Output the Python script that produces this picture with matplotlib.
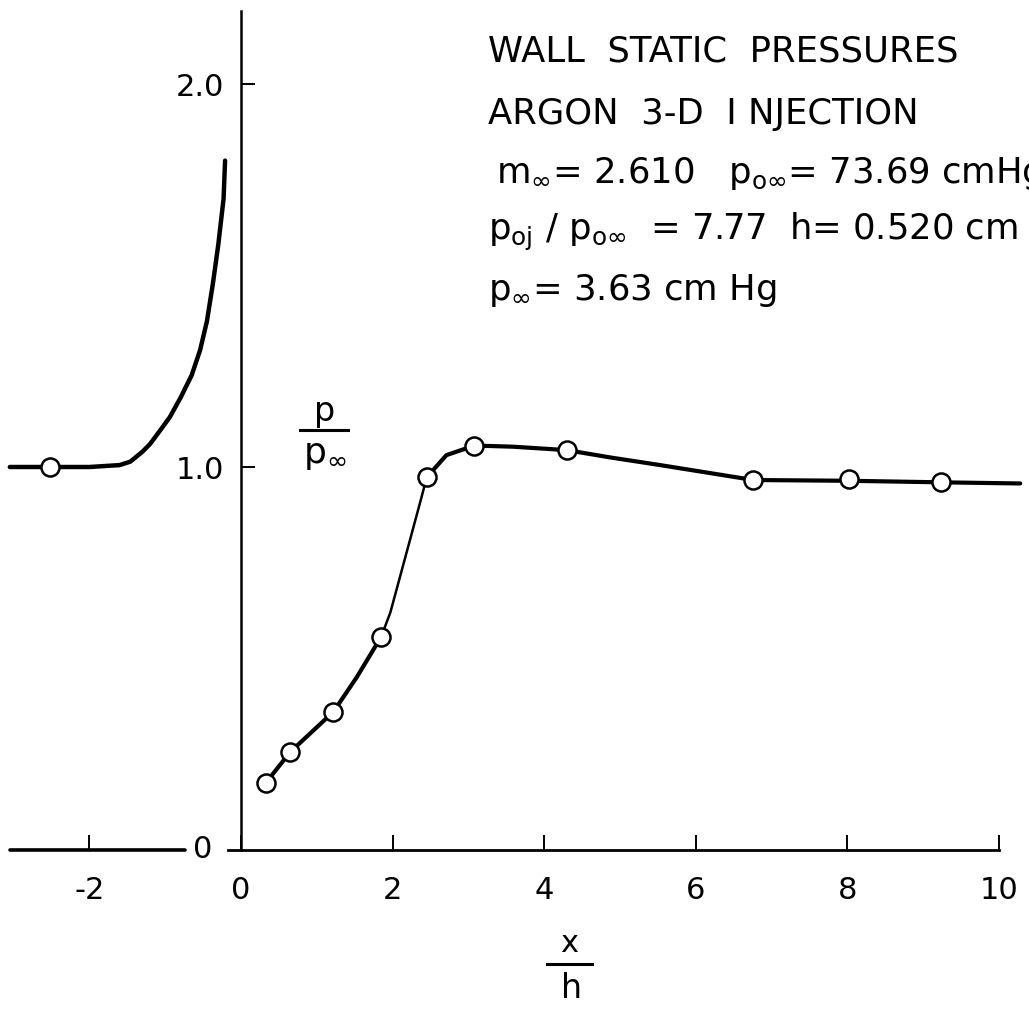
import matplotlib.pyplot as plt
from matplotlib.lines import Line2D

# wall static pressure, argon 3-D injection
# upstream faired curve (separation region ahead of the jet)
up_x = [-3.05, -2.5, -2.0, -1.6, -1.46, -1.3, -1.2, -1.05, -0.94, -0.80,
        -0.65, -0.54, -0.45, -0.37, -0.30, -0.23, -0.21]
up_y = [1.0, 1.0, 1.0, 1.005, 1.014, 1.04, 1.06, 1.10, 1.13, 1.18,
        1.24, 1.305, 1.38, 1.48, 1.58, 1.70, 1.80]
up_pts_x = [-2.52]
up_pts_y = [1.0]

# measured taps downstream of the injector
tap_x = [0.33, 0.65, 1.22, 1.85, 2.45, 3.08, 4.30, 6.76, 8.02, 9.23]
tap_y = [0.176, 0.256, 0.361, 0.557, 0.973, 1.056, 1.044, 0.966, 0.968, 0.962]

# faired curve through the taps
fair_x = [0.33, 0.65, 1.22, 1.53, 1.85, 1.97, 2.23, 2.38, 2.45, 2.71, 3.08,
          3.59, 4.30, 4.87, 5.53, 6.76, 8.02, 9.23, 10.28]
fair_y = [0.176, 0.256, 0.361, 0.452, 0.557, 0.62, 0.81, 0.92, 0.973, 1.031,
          1.056, 1.053, 1.044, 1.025, 1.005, 0.966, 0.964, 0.960, 0.957]

x_ticks = [-2, 0, 2, 4, 6, 8, 10]
x_labels = ['-2', '0', '2', '4', '6', '8', '10']
y_ticks = [1.0, 2.0]
y_labels = ['1.0', '2.0']

plt.rcParams['font.family'] = 'DejaVu Sans'
plt.rcParams['mathtext.fontset'] = 'dejavusans'

W, H = 1029, 1011
fig = plt.figure(figsize=(W / 100, H / 100), dpi=100)
ax = fig.add_axes([0, 0, 1, 1])
ax.set_xlim(-241 / 75.8, (W - 241) / 75.8)
ax.set_ylim((850 - H) / 383, 850 / 383)
ax.patch.set_alpha(0)

for s in ['top', 'right']:
    ax.spines[s].set_visible(False)
ax.spines['left'].set_position(('data', 0))
ax.spines['bottom'].set_position(('data', 0))
ax.spines['left'].set_bounds(0, 2.19)
ax.spines['bottom'].set_bounds(-0.17, 10.0)
ax.spines['left'].set_linewidth(1.8)
ax.spines['bottom'].set_linewidth(2.0)
# x axis continues on the upstream side, broken for the "0" label
ax.plot([-3.05, -0.74], [0, 0], color='black', lw=2.6, solid_capstyle='round')

ax.set_xticks(x_ticks)
ax.set_xticklabels(x_labels)
ax.set_yticks(y_ticks)
ax.set_yticklabels(y_labels)
ax.tick_params(axis='x', direction='in', length=11, width=1.4, pad=19, labelsize=22)
ax.tick_params(axis='y', direction='in', length=10, width=1.4, pad=12, labelsize=22)
ax.text(-0.50, 0, '0', fontsize=22, ha='center', va='center')

# upstream curve
ax.plot(up_x, up_y, color='black', lw=3.2, solid_capstyle='round', zorder=3)
ax.plot(up_pts_x, up_pts_y, 'o', ms=13, mfc='white', mec='black', mew=1.8, zorder=4)

# downstream curve, thinner on the steep rise
ax.plot(fair_x[:5], fair_y[:5], color='black', lw=3.0, solid_capstyle='round', zorder=3)
ax.plot(fair_x[4:9], fair_y[4:9], color='black', lw=1.8, zorder=3)
ax.plot(fair_x[8:], fair_y[8:], color='black', lw=3.0, solid_capstyle='round', zorder=3)
ax.plot(tap_x, tap_y, 'o', ms=13, mfc='white', mec='black', mew=1.8, zorder=4)


def fx(x):
    return x / W


def fy(y):
    return 1 - y / H


# axis labels written as fractions
fig.text(fx(325), fy(412), 'p', fontsize=24, ha='center', va='center')
fig.add_artist(Line2D([fx(300), fx(348)], [fy(430), fy(430)], color='black', lw=2.2))
fig.text(fx(325), fy(455), r'$\mathregular{p_{\infty}}$', fontsize=26, ha='center', va='center')

fig.text(fx(569), fy(944), 'x', fontsize=22, ha='center', va='center')
fig.add_artist(Line2D([fx(547), fx(592)], [fy(964), fy(964)], color='black', lw=2.2))
fig.text(fx(572), fy(988), 'h', fontsize=24, ha='center', va='center')

# run conditions
txt = dict(fontsize=25.5, ha='left', va='center')
fig.text(fx(488), fy(52), 'WALL  STATIC  PRESSURES', **txt)
fig.text(fx(488), fy(114), 'ARGON  3-D  I NJECTION', **txt)
fig.text(fx(496), fy(173), r'$\mathregular{m_{\infty}}$= 2.610   $\mathregular{p_{o\infty}}$= 73.69 cmHg', **txt)
fig.text(fx(488), fy(232), r'$\mathregular{p_{oj}}$ / $\mathregular{p_{o\infty}}$  = 7.77  h= 0.520 cm', **txt)
fig.text(fx(488), fy(290), r'$\mathregular{p_{\infty}}$= 3.63 cm Hg', **txt)

fig.savefig('out.png', dpi=100)
